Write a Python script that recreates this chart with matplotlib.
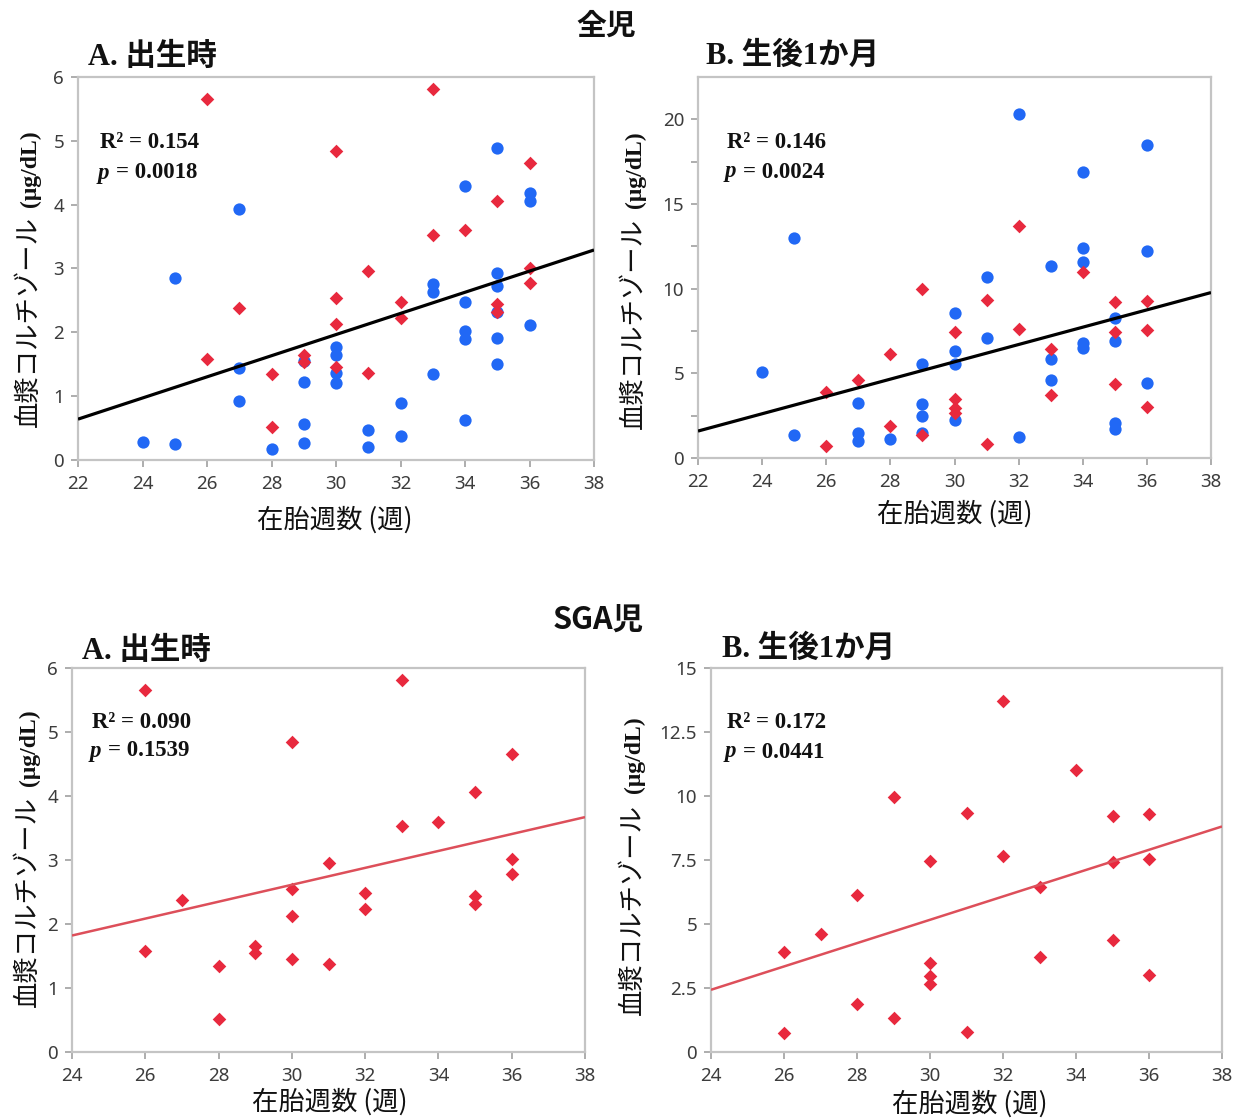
import numpy as np
import matplotlib
matplotlib.use("Agg")
import matplotlib.pyplot as plt

# ---------------- data ----------------
# SGA infants (red diamonds) - gestational age (weeks)
sga_ga = [26, 26, 27, 28, 28, 29, 29, 30, 30, 30, 30, 31, 31, 32, 32, 33, 33, 34, 35, 35, 35, 36, 36, 36]
sga_birth = [5.65, 1.58, 2.38, 1.35, 0.51, 1.65, 1.54, 4.84, 2.54, 2.13, 1.45, 2.96, 1.37,
             2.48, 2.23, 5.81, 3.53, 3.60, 4.06, 2.44, 2.32, 4.66, 3.01, 2.78]
sga_1m = [3.90, 0.73, 4.60, 6.14, 1.88, 9.96, 1.33, 7.46, 3.46, 2.97, 2.65, 9.35, 0.80,
          13.72, 7.64, 6.44, 3.73, 11.00, 9.22, 7.44, 4.37, 9.30, 7.55, 3.01]

# non-SGA infants (blue circles)
nonsga_ga_birth = [24, 25, 25, 27, 27, 27, 28, 29, 29, 29, 29, 30, 30, 30, 30, 31, 31, 32, 32,
                   33, 33, 33, 34, 34, 34, 34, 34, 35, 35, 35, 35, 35, 35, 36, 36, 36]
nonsga_birth = [0.28, 0.25, 2.85, 3.93, 1.44, 0.92, 0.17, 1.22, 0.56, 0.26, 1.55, 1.77, 1.64, 1.36, 1.20,
                0.47, 0.21, 0.90, 0.38, 1.34, 2.75, 2.63, 4.30, 2.48, 2.02, 1.90, 0.62,
                4.88, 2.93, 2.72, 2.32, 1.91, 1.50, 4.19, 4.06, 2.12]
nonsga_ga_1m = [24, 25, 25, 27, 27, 27, 28, 29, 29, 29, 29, 30, 30, 30, 30, 31, 31, 32, 32,
                33, 33, 33, 34, 34, 34, 34, 34, 35, 35, 35, 35, 36, 36, 36]
nonsga_1m = [5.05, 13.02, 1.38, 3.23, 1.46, 1.02, 1.12, 5.53, 3.19, 2.50, 1.49, 8.57, 6.33, 5.53, 2.24,
             10.70, 7.08, 20.30, 1.26, 11.33, 5.82, 4.60, 16.91, 12.41, 11.60, 6.77, 6.51,
             8.24, 6.92, 2.05, 1.69, 18.51, 12.21, 4.44]

# regression lines (x range, y at ends)
fit_all_birth = ([22, 38], [0.64, 3.29])
fit_all_1m = ([22, 38], [1.59, 9.77])
fit_sga_birth = ([24, 38], [1.82, 3.67])
fit_sga_1m = ([24, 38], [2.43, 8.81])

stats = {
    "all_birth": ("0.154", "0.0018"),
    "all_1m": ("0.146", "0.0024"),
    "sga_birth": ("0.090", "0.1539"),
    "sga_1m": ("0.172", "0.0441"),
}

# ---------------- style ----------------
W, H = 1236, 1119
fig = plt.figure(figsize=(W / 100, H / 100), dpi=100)
fig.patch.set_facecolor("white")

BLUE = "#2168F5"
RED = "#E8293E"
LINE_RED = "#DD4F5A"
TICK_COL = "#3c3c3c"
SPINE_COL = "#c4c4c4"
JP = "Noto Sans CJK JP"
SERIF = "Liberation Serif"


def px(x, y):
    return x / W, 1 - y / H


def make_ax(l, r, t, b):
    ax = fig.add_axes([l / W, 1 - b / H, (r - l) / W, (b - t) / H])
    for s in ax.spines.values():
        s.set_color(SPINE_COL)
        s.set_linewidth(1.6)
    ax.tick_params(direction="out", length=5, width=1.2, color="#a0a0a0",
                   labelsize=13.5, labelcolor=TICK_COL)
    ax.tick_params(axis="x", pad=6)
    ax.tick_params(axis="y", pad=5)
    return ax


def finish_ticks(ax):
    for lab in ax.get_xticklabels() + ax.get_yticklabels():
        lab.set_family("Noto Sans")
        lab.set_color(TICK_COL)


def ylabel(xc, y_top, y_bot):
    total = y_bot - y_top
    y_unit = y_top + 0.145 * total
    y_jp = y_top + 0.65 * total
    fig.text(*px(xc + 2, y_unit), "(μg/dL)", rotation=90, ha="center", va="center",
             family=SERIF, fontweight="bold", fontsize=17, color="#111111")
    fig.text(*px(xc, y_jp), "血漿コルチゾール", rotation=90, ha="center", va="center",
             family=JP, fontsize=19, color="#111111")


def xlabel(xc, yc):
    fig.text(*px(xc, yc), "在胎週数 (週)", ha="center", va="center",
             family=JP, fontsize=19, color="#111111")


def title(x, yc, s):
    fig.text(*px(x, yc), s, ha="left", va="center", family=[SERIF, JP],
             fontweight="bold", fontsize=22, color="#111111")


def stat_text(x, y1, y2, r2, p):
    fig.text(*px(x, y1), "R² = " + r2, ha="left", va="center", family=SERIF,
             fontweight="bold", fontsize=16.5, color="#111111")
    fig.text(*px(x - 2, y2), "p", ha="left", va="center", family=SERIF,
             fontweight="bold", style="italic", fontsize=16.5, color="#111111")
    fig.text(*px(x + 16, y2), "= " + p, ha="left", va="center", family=SERIF,
             fontweight="bold", fontsize=16.5, color="#111111")


CIRC_S = 78
DIA_S = 48

# ---------------- panel: all, birth ----------------
ax1 = make_ax(78, 594, 77, 460)
ax1.scatter(nonsga_ga_birth, nonsga_birth, s=CIRC_S, c=BLUE, marker="o", linewidths=0, zorder=3)
ax1.scatter(sga_ga, sga_birth, s=DIA_S, c=RED, marker="D", linewidths=0, zorder=3)
ax1.plot(*fit_all_birth, color="black", lw=2.3, zorder=4, solid_capstyle="butt")
ax1.set_xlim(22, 38)
ax1.set_ylim(0, 6)
ax1.set_xticks(range(22, 39, 2))
ax1.set_yticks(range(0, 7))
finish_ticks(ax1)

# ---------------- panel: all, 1 month ----------------
ax2 = make_ax(698, 1211, 77, 458)
ax2.scatter(nonsga_ga_1m, nonsga_1m, s=CIRC_S, c=BLUE, marker="o", linewidths=0, zorder=3)
ax2.scatter(sga_ga, sga_1m, s=DIA_S, c=RED, marker="D", linewidths=0, zorder=3)
ax2.plot(*fit_all_1m, color="black", lw=2.3, zorder=4, solid_capstyle="butt")
ax2.set_xlim(22, 38)
ax2.set_ylim(0, 22.5)
ax2.set_xticks(range(22, 39, 2))
yt2 = [0, 2.5, 5, 7.5, 10, 12.5, 15, 17.5, 20]
ax2.set_yticks(yt2)
ax2.set_yticklabels(["0", "", "5", "", "10", "", "15", "", "20"])
finish_ticks(ax2)

# ---------------- panel: SGA, birth ----------------
ax3 = make_ax(72, 585, 668, 1052)
ax3.scatter(sga_ga, sga_birth, s=DIA_S, c=RED, marker="D", linewidths=0, zorder=3)
ax3.plot(*fit_sga_birth, color=LINE_RED, lw=1.8, zorder=4, solid_capstyle="butt")
ax3.set_xlim(24, 38)
ax3.set_ylim(0, 6)
ax3.set_xticks(range(24, 39, 2))
ax3.set_yticks(range(0, 7))
finish_ticks(ax3)

# ---------------- panel: SGA, 1 month ----------------
ax4 = make_ax(711, 1222, 668, 1052)
ax4.scatter(sga_ga, sga_1m, s=DIA_S, c=RED, marker="D", linewidths=0, zorder=3)
ax4.plot(*fit_sga_1m, color=LINE_RED, lw=1.8, zorder=4, solid_capstyle="butt")
ax4.set_xlim(24, 38)
ax4.set_ylim(0, 15)
ax4.set_xticks(range(24, 39, 2))
yt4 = [0, 2.5, 5, 7.5, 10, 12.5, 15]
ax4.set_yticks(yt4)
ax4.set_yticklabels(["0", "2.5", "5", "7.5", "10", "12.5", "15"])
finish_ticks(ax4)

# ---------------- texts ----------------
fig.text(*px(606, 26), "全児", ha="center", va="center", family=JP, fontweight="bold",
         fontsize=21.5, color="#111111")
fig.text(*px(598, 620), "SGA児", ha="center", va="center", family=JP, fontweight="bold",
         fontsize=22, color="#111111")

title(88, 57, "A. 出生時")
title(706, 56, "B. 生後1か月")
title(82, 651, "A. 出生時")
title(722, 649, "B. 生後1か月")

ylabel(28, 125, 428)
ylabel(633, 126, 430)
ylabel(27, 703, 1008)
ylabel(632, 710, 1017)

xlabel(335, 520)
xlabel(955, 514)
xlabel(330, 1102)
xlabel(970, 1104)

stat_text(100, 143, 173, *stats["all_birth"])
stat_text(727, 143, 172, *stats["all_1m"])
stat_text(92, 722, 751, *stats["sga_birth"])
stat_text(727, 722, 752, *stats["sga_1m"])

fig.savefig("out.png", dpi=100, facecolor="white")
